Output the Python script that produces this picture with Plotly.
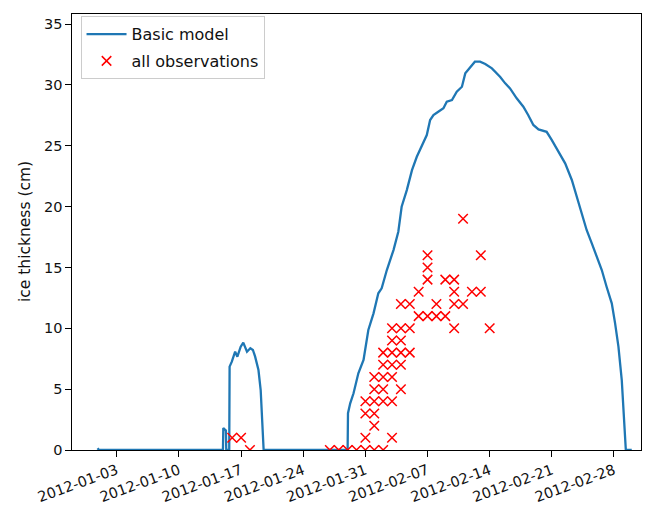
import pandas as pd
import plotly.graph_objects as go

# Modelled ice thickness (cm), "Basic model"
model_time = [
    "2011-12-31 20:00", "2012-01-01 00:00", "2012-01-14 23:00", "2012-01-15 00:00",
    "2012-01-15 07:00", "2012-01-15 08:00", "2012-01-15 16:00", "2012-01-15 17:00",
    "2012-01-15 23:00", "2012-01-16 08:00", "2012-01-16 14:00", "2012-01-16 23:00",
    "2012-01-17 06:00", "2012-01-17 16:00", "2012-01-18 01:00", "2012-01-18 08:00",
    "2012-01-18 14:00", "2012-01-18 23:00", "2012-01-19 05:00", "2012-01-19 11:00",
    "2012-01-19 13:00", "2012-01-29 00:00", "2012-01-29 01:00", "2012-01-29 07:00",
    "2012-01-29 16:00", "2012-01-30 05:00", "2012-01-30 19:00", "2012-01-31 08:00",
    "2012-01-31 22:00", "2012-02-01 11:00", "2012-02-01 20:00", "2012-02-02 10:00",
    "2012-02-03 04:00", "2012-02-03 17:00", "2012-02-04 02:00", "2012-02-04 16:00",
    "2012-02-05 06:00", "2012-02-05 19:00", "2012-02-06 13:00", "2012-02-06 22:00",
    "2012-02-07 07:00", "2012-02-07 16:00", "2012-02-08 05:00", "2012-02-08 19:00",
    "2012-02-09 04:00", "2012-02-09 18:00", "2012-02-10 07:00", "2012-02-10 21:00",
    "2012-02-11 06:00", "2012-02-11 14:00", "2012-02-12 00:00", "2012-02-12 08:00",
    "2012-02-12 22:00", "2012-02-13 12:00", "2012-02-14 06:00", "2012-02-15 04:00",
    "2012-02-15 18:00", "2012-02-16 07:00", "2012-02-17 01:00", "2012-02-17 19:00",
    "2012-02-18 08:00", "2012-02-18 22:00", "2012-02-19 12:00", "2012-02-20 01:00",
    "2012-02-20 10:00", "2012-02-21 00:00", "2012-02-21 18:00", "2012-02-22 12:00",
    "2012-02-23 06:00", "2012-02-23 19:00", "2012-02-24 09:00", "2012-02-24 22:00",
    "2012-02-25 12:00", "2012-02-26 01:00", "2012-02-26 15:00", "2012-02-27 04:00",
    "2012-02-27 18:00", "2012-02-28 03:00", "2012-02-28 12:00", "2012-02-28 21:00",
    "2012-02-29 03:00", "2012-02-29 08:00", "2012-03-01 00:00",
]
model_thickness = [
    0.15, 0.0, 0.0, 1.8,
    1.6, 0.0, 0.0, 6.85,
    7.26, 8.08, 7.67, 8.49,
    8.82, 8.08, 8.36, 8.22,
    7.67, 6.57, 4.93, 1.92,
    0.0, 0.0, 3.02, 3.84,
    4.66, 6.30, 7.40, 9.86,
    11.23, 12.88, 13.29, 14.79,
    16.43, 17.94, 19.99, 21.36,
    23.00, 24.10, 25.20, 25.88,
    27.12, 27.53, 27.80, 28.08,
    28.62, 28.76, 29.44, 29.85,
    30.95, 31.22, 31.63, 31.91,
    31.91, 31.72, 31.36, 30.67,
    30.13, 29.72, 28.90, 28.21,
    27.53, 26.71, 26.35, 26.24,
    26.15, 25.47, 24.51, 23.56,
    22.19, 20.81, 19.45, 18.08,
    16.98, 15.89, 14.79, 13.42,
    12.05, 10.41, 8.49, 5.75,
    2.19, 0.0, 0.0,
]

# Observed ice thickness (cm), all sites
obs_date = (
    ["2012-01-16", "2012-01-17", "2012-01-18"]
    + ["2012-01-27", "2012-01-28", "2012-01-29", "2012-01-30"]
    + ["2012-01-31"] * 4
    + ["2012-02-01"] * 6
    + ["2012-02-02"] * 6
    + ["2012-02-03"] * 7
    + ["2012-02-04"] * 6
    + ["2012-02-05"] * 3
    + ["2012-02-06"] * 2
    + ["2012-02-07"] * 4
    + ["2012-02-08"] * 2
    + ["2012-02-09"] * 2
    + ["2012-02-10"] * 4
    + ["2012-02-11"] * 2
    + ["2012-02-12"]
    + ["2012-02-13"] * 2
    + ["2012-02-14"]
)
obs_thickness = (
    [1, 1, 0]
    + [0, 0, 0, 0]
    + [0, 1, 3, 4]
    + [0, 2, 3, 4, 5, 6]
    + [0, 4, 5, 6, 7, 8]
    + [1, 4, 6, 7, 8, 9, 10]
    + [5, 7, 8, 9, 10, 12]
    + [8, 10, 12]
    + [11, 13]
    + [11, 14, 15, 16]
    + [11, 12]
    + [11, 14]
    + [10, 12, 13, 14]
    + [12, 19]
    + [13]
    + [13, 16]
    + [10]
)

y_ticks = [0, 5, 10, 15, 20, 25, 30, 35]
x_ticks = ["2012-01-03", "2012-01-10", "2012-01-17", "2012-01-24", "2012-01-31",
           "2012-02-07", "2012-02-14", "2012-02-21", "2012-02-28"]

FONT = "DejaVu Sans"
FS = 15.5
TICK_FS = 14.5
LEGEND_FS = 16

fig = go.Figure()
fig.add_trace(go.Scatter(
    x=pd.to_datetime(model_time), y=model_thickness, mode="lines",
    name="Basic model", line=dict(color="#1f77b4", width=2.3),
    legendgroup="a",
))
fig.add_trace(go.Scatter(
    x=pd.to_datetime(obs_date), y=obs_thickness, mode="markers",
    name="all observations",
    marker=dict(symbol="x-thin", size=9.5, color="red",
                line=dict(color="red", width=1.5)),
    legendgroup="b",
))

axis_common = dict(
    showline=True, linecolor="black", linewidth=1.1, mirror=True,
    ticks="outside", ticklen=5.5, tickwidth=1.1, tickcolor="black",
    showgrid=False, zeroline=False, automargin=False,
    tickfont=dict(family=FONT, size=TICK_FS, color="#111111"),
)

fig.update_layout(
    width=648, height=511,
    margin=dict(l=72, r=7, t=14, b=61),
    paper_bgcolor="white", plot_bgcolor="white",
    font=dict(family=FONT, size=FS, color="#111111"),
    showlegend=True,
    legend=dict(
        x=0.015, y=0.995, xanchor="left", yanchor="top",
        bgcolor="rgba(255,255,255,0.8)", bordercolor="#cccccc", borderwidth=1,
        font=dict(family=FONT, size=LEGEND_FS, color="#111111"),
        tracegroupgap=3, traceorder="grouped", itemwidth=40,
    ),
    xaxis=dict(
        range=["2011-12-28 23:00", "2012-03-02 01:00"],
        tickvals=pd.to_datetime(x_ticks), ticktext=x_ticks,
        tickangle=-20,
        **axis_common,
    ),
    yaxis=dict(
        range=[0, 35.83], tickvals=y_ticks, ticktext=[str(v) for v in y_ticks],
        **axis_common,
    ),
    annotations=[dict(
        text="ice thickness (cm)", xref="paper", yref="paper",
        x=(25 - 72) / 569, y=0.5, xanchor="center", yanchor="middle",
        textangle=-90, showarrow=False,
        font=dict(family=FONT, size=FS, color="#111111"),
    )],
)

fig.write_html("out.html")
